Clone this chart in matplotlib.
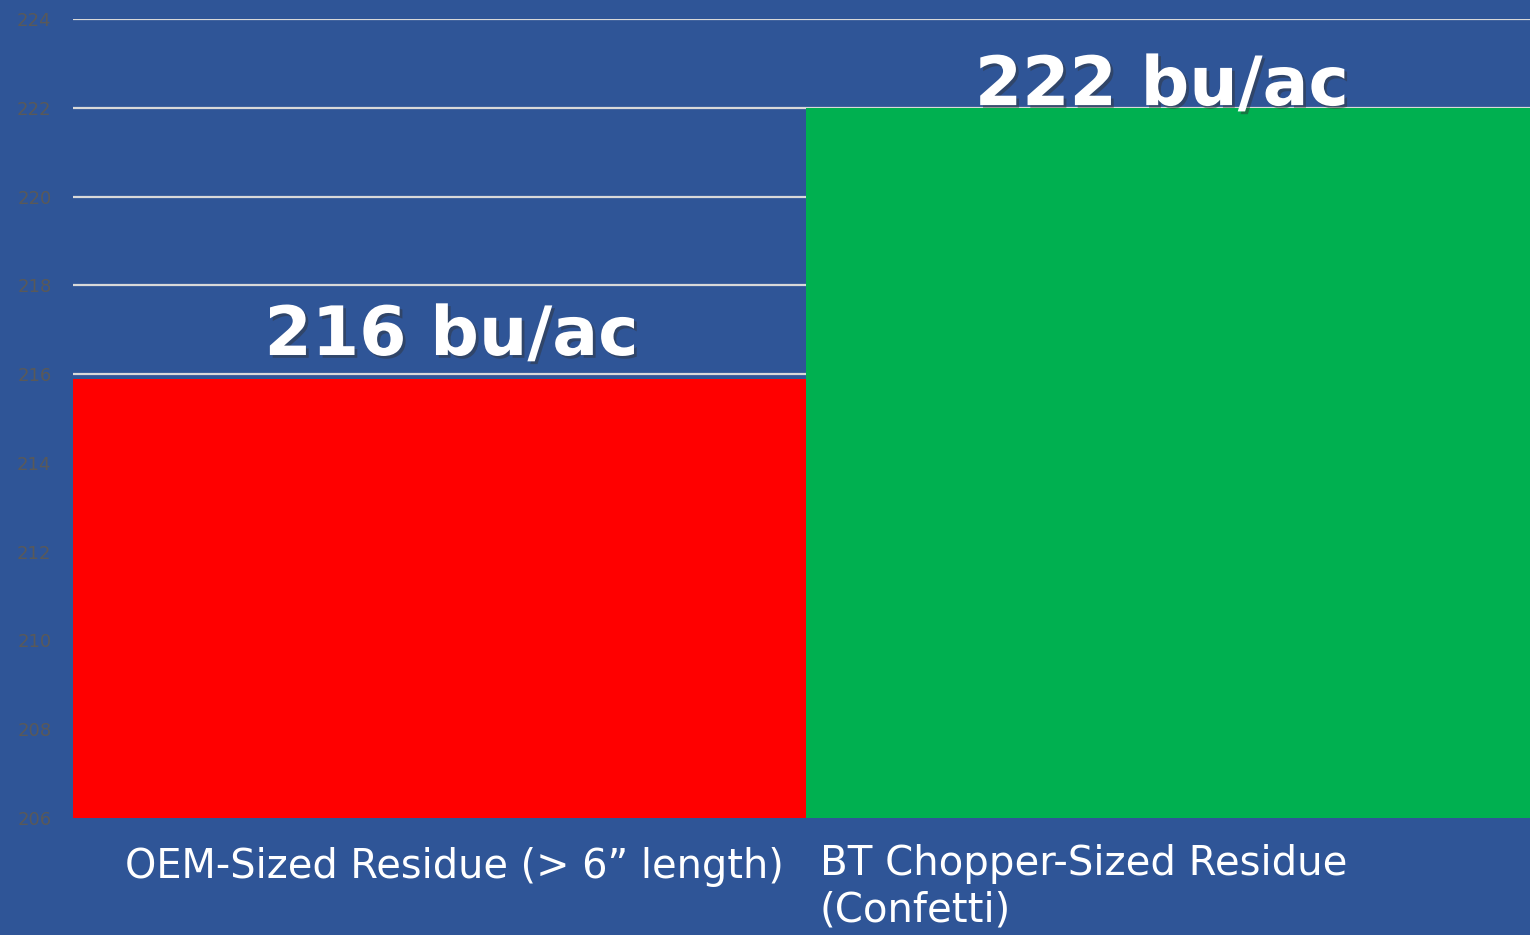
import matplotlib.pyplot as plt
import matplotlib.patheffects as pe

categories = ["OEM-Sized Residue (> 6\u201d length)", "BT Chopper-Sized Residue\n(Confetti)"]
values = [215.9, 222.0]
value_labels = ["216 bu/ac", "222 bu/ac"]
colors = ["#FF0000", "#00B050"]
yticks = [206, 208, 210, 212, 214, 216, 218, 220, 222, 224]

bg = "#2F5597"

fig = plt.figure(figsize=(15.3, 9.35), dpi=100, facecolor=bg)
ax = fig.add_axes([73/1530, 117/935, 1466/1530, 799/935])
ax.set_facecolor(bg)

ax.bar([0, 1], [v - 206 for v in values], bottom=206, width=1.0, color=colors, zorder=3)

ax.set_xlim(-0.5, 1.5)
ax.set_ylim(206, 224)
ax.set_yticks(yticks)
ax.set_yticklabels([str(t) for t in yticks], fontsize=13, color="#595959")
ax.tick_params(axis="y", length=0, pad=15.5)
ax.set_xticks([])
ax.grid(axis="y", color="#D9D9D9", linewidth=1.6, zorder=1)
for s in ax.spines.values():
    s.set_visible(False)

shadow = [pe.withSimplePatchShadow(offset=(2, -2), shadow_rgbFace="#333333", alpha=0.45)]
label_y = [216.43, 222.06]
label_x = [0.016, 0.985]
for txt, x, y in zip(value_labels, label_x, label_y):
    ax.text(x, y, txt, ha="center", va="baseline",
            fontsize=49, fontweight="bold", color="white", family="DejaVu Sans",
            path_effects=shadow, zorder=5)

# category labels under the bars, left aligned
trans = ax.get_xaxis_transform()
ax.text(-0.429, -0.036, categories[0], transform=trans, ha="left", va="top",
        fontsize=28.7, color="white", family="DejaVu Sans", clip_on=False)
ax.text(0.519, -0.033, categories[1], transform=trans, ha="left", va="top",
        fontsize=29, color="white", family="DejaVu Sans", linespacing=1.2, clip_on=False)

fig.savefig("out.png", dpi=100, facecolor=bg)
